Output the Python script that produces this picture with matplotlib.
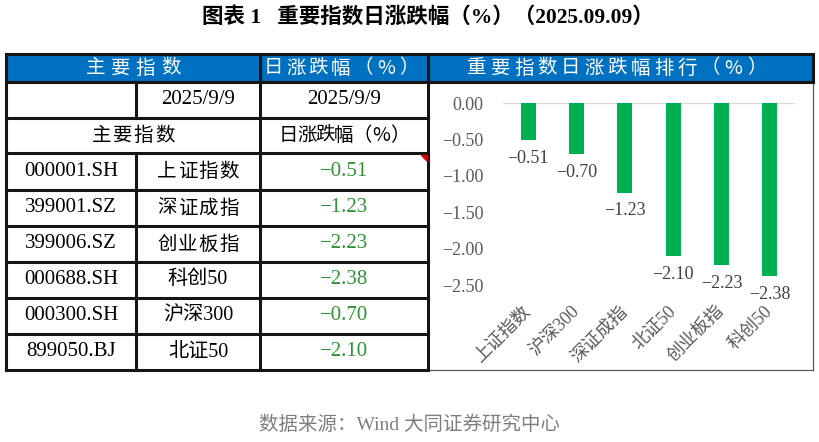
import matplotlib
matplotlib.use('Agg')
import matplotlib.pyplot as plt
from matplotlib.patches import Rectangle, Polygon

plt.rcParams['font.family'] = ['Liberation Serif', 'Noto Sans CJK SC', 'DejaVu Sans']
plt.rcParams['axes.unicode_minus'] = True

# ---------------- data ----------------
title = '图表 1   重要指数日涨跌幅（%）（2025.09.09）'
source = '数据来源：Wind 大同证券研究中心'
codes = ['000001.SH', '399001.SZ', '399006.SZ', '000688.SH', '000300.SH', '899050.BJ']
names = ['上证指数', '深证成指', '创业板指', '科创50', '沪深300', '北证50']
changes = [-0.51, -1.23, -2.23, -2.38, -0.70, -2.10]
date_label = '2025/9/9'
head_left = '主要指数'
head_mid = '日涨跌幅（%）'
head_right = '重要指数日涨跌幅排行（%）'
y_ticks = [0.0, -0.5, -1.0, -1.5, -2.0, -2.5]

order = sorted(range(len(changes)), key=lambda i: changes[i], reverse=True)
rank_names = [names[i] for i in order]
rank_values = [changes[i] for i in order]


def fmt(v):
    s = f'{v:.2f}'
    return s.replace('-', '\u2212')


fig = plt.figure(figsize=(8.2, 4.42), dpi=100)
fig.patch.set_facecolor('white')
bg = fig.add_axes([0, 0, 1, 1])
bg.set_xlim(0, 820)
bg.set_ylim(442, 0)
bg.axis('off')

BLUE = '#0070C0'
GREEN_TXT = '#2E9135'
X0, X1, X2, X3, X4 = 6, 136, 260, 428, 813
YH0, YH1 = 54, 82
rows = [82, 118, 153, 190, 226, 262, 298, 334, 370]

# header band
bg.add_patch(Rectangle((X0, YH0), X4 - X0, YH1 - YH0, color=BLUE, zorder=1))
# chart panel frame (thin)
bg.plot([X4, X4], [YH1, 370], color='#595959', lw=0.9, zorder=2)
bg.plot([X3, X4], [370, 370], color='#595959', lw=0.9, zorder=2)

LW = 2.2
LC = '#151515'
for y in (YH0, YH1):
    bg.plot([X0, X4], [y, y], color=LC, lw=LW, zorder=3, solid_capstyle='projecting')
for y in rows[1:]:
    bg.plot([X0, X3], [y, y], color=LC, lw=LW, zorder=3, solid_capstyle='projecting')
for x in (X0, X2, X3):
    bg.plot([x, x], [YH0, 370], color=LC, lw=LW, zorder=3, solid_capstyle='projecting')
bg.plot([X4, X4], [YH0, YH1], color=LC, lw=LW, zorder=3, solid_capstyle='projecting')
bg.plot([X1, X1], [rows[0], rows[1]], color=LC, lw=LW, zorder=3)
bg.plot([X1, X1], [rows[2], rows[-1]], color=LC, lw=LW, zorder=3)
# small comment marker
bg.add_patch(Polygon([(421, 155), (427, 155), (427, 161)], closed=True, color='#e00000', zorder=4))


def spaced(s, cx, cy, pitch, **kw):
    n = len(s)
    for i, ch in enumerate(s):
        x = cx + (i - (n - 1) / 2) * pitch
        bg.text(x, cy, ch, ha='center', va='center', **kw)


def is_cjk_only(s):
    return all(ord(c) > 0x2000 for c in s)


hk = dict(color='white', fontsize=14, family=['Noto Sans CJK SC'], zorder=5)
spaced(head_left, 133, 68, 25, **hk)
spaced(head_mid, 341, 68, 22.5, **hk)
spaced(head_right, 617, 68, 23.3, **hk)

ck = dict(fontsize=14, color='black', family=['Noto Sans CJK SC'], zorder=5)
tk = dict(fontsize=15, color='black', ha='center', va='center', zorder=5)
bg.text((X1 + X2) / 2, (rows[0] + rows[1]) / 2, date_label, **tk)
bg.text((X2 + X3) / 2, (rows[0] + rows[1]) / 2, date_label, **tk)
spaced(head_left, (X0 + X2) / 2, (rows[1] + rows[2]) / 2, 21, **ck)
spaced(head_mid, (X2 + X3) / 2, (rows[1] + rows[2]) / 2, 18.5, **ck)

for k in range(len(codes)):
    cy = (rows[k + 2] + rows[k + 3]) / 2
    bg.text((X0 + X1) / 2, cy, codes[k], **tk)
    if is_cjk_only(names[k]):
        spaced(names[k], (X1 + X2) / 2, cy, 20.5, **ck)
    else:
        bg.text((X1 + X2) / 2, cy, names[k], fontsize=14.5, color='black',
                ha='center', va='center', zorder=5)
    bg.text((X2 + X3) / 2, cy, fmt(changes[k]), fontsize=15, color=GREEN_TXT,
            ha='center', va='center', zorder=5)

bg.text(428, 17, title, fontsize=15.5, fontweight='bold', ha='center', va='center', color='black')
bg.text(410, 425, source, fontsize=14, ha='center', va='center', color='#7f7f7f')

# ---------------- bar chart ----------------
ax = fig.add_axes([503 / 820, 1 - 285 / 442, 292 / 820, 182 / 442])
ax.patch.set_alpha(0)
xs = list(range(len(rank_values)))
ax.bar(xs, rank_values, width=0.31, color='#00B050', zorder=2)
ax.axhline(0, color='#d9d9d9', lw=1.0, zorder=1)
ax.set_ylim(-2.5, 0)
ax.set_xlim(-0.52, len(xs) - 0.48)
for sp in ax.spines.values():
    sp.set_visible(False)
ax.set_yticks(y_ticks)
ax.set_yticklabels([fmt(v) if v != 0 else '0.00' for v in y_ticks])
ax.tick_params(axis='y', length=0, pad=14, labelsize=13, labelcolor='#595959')
ax.set_xticks(xs)
ax.set_xticklabels(rank_names, rotation=45, ha='right', va='center', rotation_mode='anchor',
                   fontsize=13, color='#595959')
ax.tick_params(axis='x', length=0, pad=17)
for x, v in zip(xs, rank_values):
    ax.annotate(fmt(v), (x, v), xytext=(0, -7), textcoords='offset points', ha='center', va='top',
                fontsize=13, color='#404040', annotation_clip=False)

fig.savefig('out.png', dpi=100, facecolor='white')
